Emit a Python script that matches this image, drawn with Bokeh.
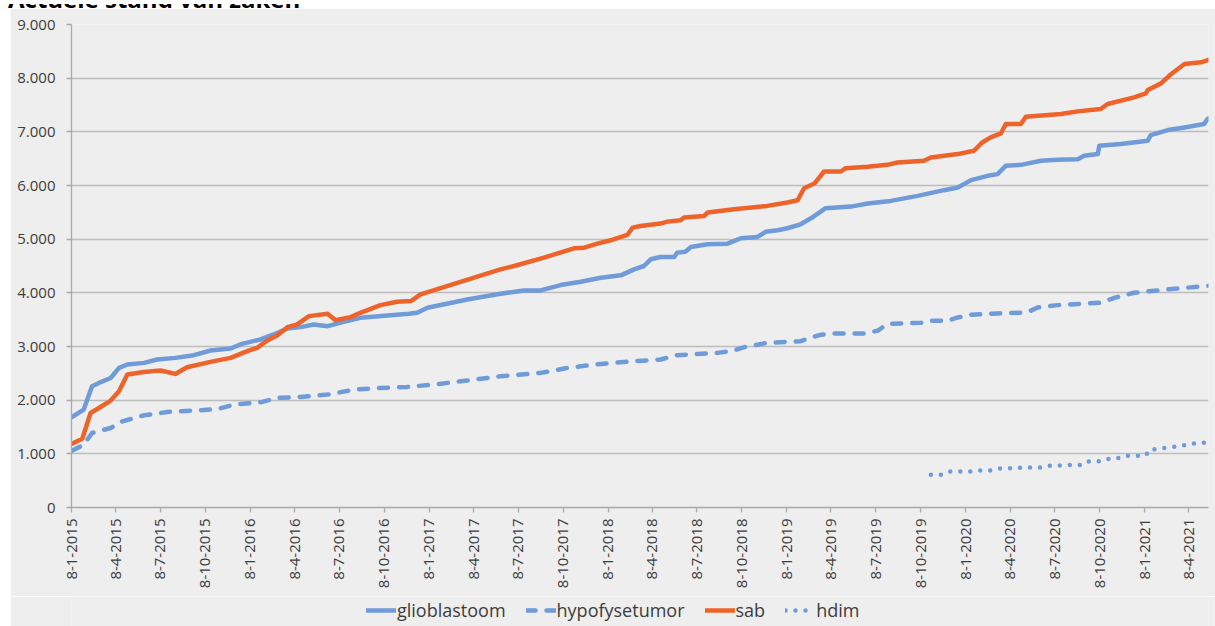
import math
import pandas as pd
from bokeh.plotting import figure
from bokeh.layouts import column, row
from bokeh.models import FixedTicker, Legend, LegendItem, Range1d, Div, Spacer
from bokeh.embed import file_html
from bokeh.resources import INLINE

# ---------------- data ----------------
title_text = "Actuele stand van zaken"
start_date = "2015-01-08"

glio_dates = ["2015-01-09", "2015-02-02", "2015-02-19", "2015-03-05", "2015-03-29", "2015-04-15",
              "2015-05-02", "2015-06-05", "2015-07-02", "2015-08-08", "2015-09-15", "2015-10-19",
              "2015-11-29", "2015-12-22", "2016-01-29", "2016-02-25", "2016-03-24", "2016-04-20",
              "2016-05-17", "2016-06-14", "2016-07-17", "2016-08-20", "2016-10-27", "2016-11-27",
              "2016-12-14", "2017-01-04", "2017-03-26", "2017-06-02", "2017-07-20", "2017-08-23",
              "2017-10-03", "2017-11-13", "2017-12-24", "2018-02-03", "2018-03-02", "2018-03-22",
              "2018-04-05", "2018-04-25", "2018-05-23", "2018-05-29", "2018-06-15", "2018-06-26",
              "2018-07-30", "2018-09-09", "2018-10-06", "2018-11-09", "2018-11-26", "2018-12-20",
              "2019-01-09", "2019-02-05", "2019-02-26", "2019-03-18", "2019-03-28", "2019-05-19",
              "2019-06-22", "2019-08-08", "2019-10-02", "2019-11-25", "2019-12-23", "2020-01-19",
              "2020-02-22", "2020-03-13", "2020-03-30", "2020-04-30", "2020-06-10", "2020-07-14",
              "2020-08-24", "2020-09-06", "2020-10-04", "2020-10-07", "2020-11-20", "2021-01-14",
              "2021-01-20", "2021-02-24", "2021-03-30", "2021-05-09", "2021-05-16", "2021-05-18"]
glio_values = [1686, 1824, 2259, 2321, 2414, 2601,
               2664, 2695, 2758, 2788, 2838, 2926,
               2963, 3049, 3131, 3224, 3336, 3361,
               3411, 3379, 3460, 3534, 3585, 3609,
               3628, 3721, 3877, 3983, 4045, 4045,
               4145, 4207, 4282, 4326, 4438, 4500,
               4625, 4668, 4668, 4749, 4767, 4854,
               4904, 4916, 5017, 5041, 5140, 5165,
               5203, 5277, 5389, 5513, 5577, 5607,
               5663, 5713, 5807, 5913, 5962, 6100,
               6180, 6212, 6367, 6385, 6460, 6479,
               6491, 6553, 6585, 6740, 6772, 6834,
               6940, 7033, 7082, 7145, 7238, 7250]

hypo_dates = ["2015-01-09", "2015-02-02", "2015-02-19", "2015-03-29", "2015-04-22", "2015-06-05",
              "2015-07-23", "2015-09-15", "2015-11-02", "2015-12-06", "2016-01-29", "2016-03-03",
              "2016-04-20", "2016-06-14", "2016-08-07", "2016-09-30", "2016-11-24", "2017-01-17",
              "2017-03-26", "2017-06-02", "2017-08-23", "2017-10-17", "2017-12-24", "2018-03-02",
              "2018-04-25", "2018-05-29", "2018-08-19", "2018-09-22", "2018-10-13", "2018-11-29",
              "2019-02-05", "2019-02-26", "2019-03-18", "2019-04-08", "2019-06-15", "2019-07-12",
              "2019-08-01", "2019-10-09", "2019-10-29", "2019-12-02", "2019-12-23", "2020-01-19",
              "2020-03-13", "2020-04-30", "2020-05-20", "2020-06-03", "2020-07-14", "2020-08-03",
              "2020-10-10", "2020-11-07", "2020-12-17", "2021-02-24", "2021-05-18"]
hypo_values = [1058, 1170, 1388, 1481, 1606, 1718,
               1780, 1805, 1836, 1917, 1960, 2041,
               2060, 2104, 2197, 2228, 2247, 2291,
               2366, 2446, 2508, 2601, 2676, 2726,
               2758, 2838, 2881, 2926, 2987, 3068,
               3099, 3166, 3218, 3243, 3243, 3293,
               3418, 3443, 3480, 3480, 3541, 3592,
               3616, 3629, 3667, 3728, 3771, 3781,
               3815, 3908, 4001, 4064, 4130]

sab_dates = ["2015-01-09", "2015-01-30", "2015-02-16", "2015-03-05", "2015-03-29", "2015-04-15",
             "2015-05-02", "2015-06-05", "2015-07-09", "2015-08-08", "2015-09-01", "2015-10-19",
             "2015-11-29", "2016-01-02", "2016-01-22", "2016-02-12", "2016-03-03", "2016-03-24",
             "2016-04-13", "2016-05-07", "2016-06-14", "2016-06-30", "2016-07-31", "2016-08-20",
             "2016-09-30", "2016-11-03", "2016-12-01", "2016-12-21", "2017-06-02", "2017-06-30",
             "2017-08-30", "2017-10-30", "2017-11-20", "2017-12-17", "2018-01-13", "2018-02-16",
             "2018-02-27", "2018-03-15", "2018-04-25", "2018-05-09", "2018-06-05", "2018-06-12",
             "2018-07-23", "2018-07-30", "2018-09-22", "2018-11-29", "2019-01-09", "2019-01-30",
             "2019-02-12", "2019-03-05", "2019-03-25", "2019-04-28", "2019-05-08", "2019-06-22",
             "2019-08-01", "2019-08-22", "2019-10-15", "2019-10-29", "2019-12-23", "2020-01-25",
             "2020-02-11", "2020-02-28", "2020-03-20", "2020-03-30", "2020-04-30", "2020-05-10",
             "2020-07-21", "2020-08-24", "2020-10-10", "2020-10-24", "2020-12-17", "2021-01-10",
             "2021-01-14", "2021-02-10", "2021-03-03", "2021-03-30", "2021-05-03", "2021-05-18"]
sab_values = [1189, 1282, 1761, 1854, 1992, 2166,
              2478, 2526, 2552, 2489, 2614, 2713,
              2788, 2913, 2975, 3112, 3206, 3361,
              3411, 3566, 3609, 3491, 3547, 3628,
              3771, 3833, 3846, 3971, 4438, 4500,
              4655, 4830, 4842, 4916, 4979, 5078,
              5215, 5246, 5290, 5327, 5352, 5402,
              5433, 5495, 5558, 5620, 5682, 5726,
              5950, 6036, 6261, 6261, 6323, 6348,
              6385, 6429, 6460, 6522, 6585, 6647,
              6802, 6896, 6970, 7145, 7145, 7282,
              7332, 7381, 7425, 7519, 7642, 7717,
              7779, 7903, 8078, 8264, 8295, 8340]

hdim_dates = ["2019-10-29", "2019-11-18", "2019-12-07", "2020-01-19", "2020-02-08", "2020-02-29",
              "2020-03-19", "2020-05-24", "2020-06-13", "2020-06-27", "2020-08-06", "2020-08-29",
              "2020-09-11", "2020-10-04", "2020-10-20", "2020-11-10", "2020-11-28", "2021-01-10",
              "2021-01-17", "2021-02-06", "2021-02-27", "2021-03-19", "2021-04-07", "2021-05-18"]
hdim_values = [610, 610, 672, 672, 691, 691,
               728, 747, 747, 778, 790, 790,
               859, 859, 902, 908, 965, 965,
               1077, 1095, 1126, 1139, 1182, 1214]

series_names = ["glioblastoom", "hypofysetumor", "sab", "hdim"]

x_tick_labels = ["8-1-2015", "8-4-2015", "8-7-2015", "8-10-2015",
                 "8-1-2016", "8-4-2016", "8-7-2016", "8-10-2016",
                 "8-1-2017", "8-4-2017", "8-7-2017", "8-10-2017",
                 "8-1-2018", "8-4-2018", "8-7-2018", "8-10-2018",
                 "8-1-2019", "8-4-2019", "8-7-2019", "8-10-2019",
                 "8-1-2020", "8-4-2020", "8-7-2020", "8-10-2020",
                 "8-1-2021", "8-4-2021"]
y_ticks = [0, 1000, 2000, 3000, 4000, 5000, 6000, 7000, 8000, 9000]
y_tick_labels = ["0", "1.000", "2.000", "3.000", "4.000", "5.000", "6.000", "7.000", "8.000", "9.000"]

# ---------------- helpers ----------------
t0 = pd.Timestamp(start_date)


def to_days(dates):
    return [(pd.Timestamp(d) - t0).days for d in dates]


tick_days = [(pd.to_datetime(s, format="%d-%m-%Y") - t0).days for s in x_tick_labels]

BLUE = "#6f9bd9"
ORANGE = "#ee6329"
FONT = "Open Sans"
TXT = "#3c3c3c"
BG = "#eeeeee"

styles = [dict(line_color=BLUE, line_width=4.5, line_join="round", line_cap="round"),
          dict(line_color=BLUE, line_width=4.5, line_join="round", line_cap="round", line_dash="9 11"),
          dict(line_color=ORANGE, line_width=4.5, line_join="round", line_cap="round"),
          dict(line_color=BLUE, line_width=4.5, line_join="round", line_cap="round", line_dash="0 10")]
series_x = [to_days(glio_dates), to_days(hypo_dates), to_days(sab_dates), to_days(hdim_dates)]
series_y = [glio_values, hypo_values, sab_values, hdim_values]

x_end = max(max(xs) for xs in series_x)

# ---------------- main chart ----------------
p = figure(width=1205, height=588, output_backend="svg", toolbar_location=None,
           x_range=Range1d(0, x_end), y_range=Range1d(0, 9000),
           min_border_left=61, min_border_right=7, min_border_top=16, min_border_bottom=89)
p.background_fill_color = BG
p.border_fill_color = BG
p.outline_line_color = None

renderers = [p.line(xs, ys, **st) for xs, ys, st in zip(series_x, series_y, styles)]

p.xaxis.ticker = FixedTicker(ticks=tick_days)
p.xaxis.major_label_overrides = {d: s for d, s in zip(tick_days, x_tick_labels)}
p.xaxis.major_label_orientation = math.pi / 2
p.xaxis.minor_tick_line_color = None
p.xaxis.major_tick_in = 0
p.xaxis.major_tick_out = 5
p.xaxis.major_label_standoff = 6

p.yaxis.ticker = FixedTicker(ticks=y_ticks)
p.yaxis.major_label_overrides = {v: s for v, s in zip(y_ticks, y_tick_labels)}
p.yaxis.minor_tick_line_color = None
p.yaxis.major_tick_in = 0
p.yaxis.major_tick_out = 5
p.yaxis.major_label_standoff = 11

for ax in (p.xaxis, p.yaxis):
    ax.axis_line_color = "#a9a9a9"
    ax.axis_line_width = 1.3
    ax.major_tick_line_color = "#a9a9a9"
    ax.major_tick_line_width = 1.3
    ax.major_label_text_font = FONT
    ax.major_label_text_font_size = "15px"
    ax.major_label_text_color = TXT

p.xgrid.grid_line_color = None
p.ygrid.grid_line_color = "#bdbdbd"
p.ygrid.grid_line_width = 1.3

# ---------------- legend strip (same series styles, shown only as legend keys) ----------------
lg = figure(width=1205, height=30, output_backend="svg", toolbar_location=None,
            x_range=Range1d(0, 1), y_range=Range1d(0, 1),
            x_axis_location=None, y_axis_location=None,
            min_border_left=0, min_border_right=0, min_border_top=0, min_border_bottom=0)
lg.background_fill_color = BG
lg.border_fill_color = BG
lg.outline_line_color = None
lg.grid.visible = False
# keys reuse the series data; it lies outside this strip's (0..1) ranges so only the legend keys show
legend_renderers = [lg.line(xs, ys, **st) for xs, ys, st in zip(series_x, series_y, styles)]

legend = Legend(items=[LegendItem(label=n, renderers=[r]) for n, r in zip(series_names, legend_renderers)],
                orientation="horizontal", location=(295, 4),
                glyph_width=30, glyph_height=20, label_standoff=1, spacing=20,
                padding=0, margin=0, border_line_color=None, background_fill_alpha=0,
                label_text_font=FONT, label_text_font_size="18px", label_text_color=TXT)
lg.add_layout(legend, "center")

# ---------------- title strip (the title sits mostly above the visible page, as in the reference) ----------------
title_html = (
    '<div style="position:relative;width:1215px;height:8px;overflow:hidden">'
    '<div style="position:absolute;left:8px;top:-17px;font-family:\'Open Sans\';font-weight:bold;'
    f'font-size:24px;line-height:24px;color:#000;white-space:nowrap">{title_text}</div></div>'
)
title = Div(text=title_html, width=1215, height=8,
            styles={"overflow": "hidden", "height": "8px", "margin": "0", "padding": "0"})

layout = column(title, row(Spacer(width=10, height=618), column(p, lg, spacing=0), spacing=0), spacing=0)
open("out.html", "w").write(file_html(layout, INLINE))
